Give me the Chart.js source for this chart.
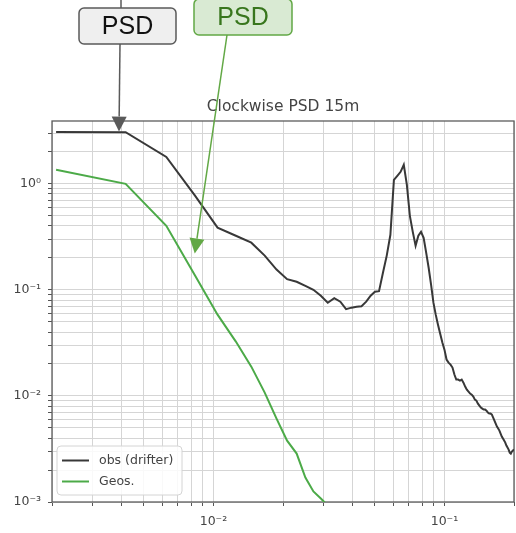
<!DOCTYPE html>
<html>
<head>
<meta charset="utf-8">
<script src="https://cdn.jsdelivr.net/npm/chart.js@4.4.1/dist/chart.umd.min.js"></script>
<style>
  html, body { margin: 0; padding: 0; background: #fff; }
  #wrap { width: 516px; height: 533px; }
</style>
</head>
<body>
<div id="wrap"><canvas id="psdChart" width="516" height="533"></canvas></div>
<script>
/* FREQUENCY GRID (cph): harmonics of a 480 h record */
const recordHours = 480;
const harmonics = Array.from({ length: 96 }, (_, i) => i + 1);
const freq = harmonics.map(n => n / recordHours);

/* SPECTRA */
const obsPsd = [
  3.08, 3.06, 1.79, 0.769, 0.385, 0.323, 0.278, 0.21, 0.155, 0.126,
  0.119, 0.109, 0.1, 0.088, 0.0756, 0.0834, 0.0773, 0.0657, 0.0679, 0.0693,
  0.0701, 0.0773, 0.088, 0.096, 0.097, 0.145, 0.21, 0.33, 1.088, 1.187,
  1.294, 1.507, 0.976, 0.498, 0.352, 0.26, 0.323, 0.352, 0.309, 0.224,
  0.1615, 0.1117, 0.0756, 0.0583, 0.0469, 0.0386, 0.0318, 0.0273, 0.022, 0.0206,
  0.0197, 0.0185, 0.0159, 0.01424, 0.01424, 0.01393, 0.01424, 0.01334, 0.01224, 0.01146,
  0.01098, 0.01051, 0.01028, 0.00985, 0.00923, 0.00903, 0.00846, 0.0081, 0.00776, 0.00759,
  0.00743, 0.00743, 0.00727, 0.00696, 0.00681, 0.00681, 0.00667, 0.00625, 0.00585, 0.00548,
  0.00514, 0.00492, 0.00471, 0.00442, 0.00414, 0.00396, 0.00379, 0.00363, 0.0034, 0.00326,
  0.00312, 0.00292, 0.00286, 0.00299, 0.00306, 0.00312
];
const geosPsd = [
  1.352, 0.998, 0.4015, 0.1358, 0.0583, 0.0325, 0.01888, 0.01074, 0.00611, 0.00379,
  0.00286, 0.0017, 0.001256, 0.001079, 0.000927, 0.00078
];
const seriesNames = ["obs (drifter)", "Geos."];
const seriesColors = ["#383838", "#4caa48"];

/* AXES */
const xRange = [0.002, 0.2];
const yRange = [0.001, 3.9];
const xDecades = [0.001, 0.01, 0.1];
const yDecades = [0.001, 0.01, 0.1, 1];
const xTickText = ["10⁻³", "10⁻²", "10⁻¹"];
const yTickText = ["10⁻³", "10⁻²", "10⁻¹", "10⁰"];
const titleText = "Clockwise PSD 15m";

// 1..9 x 10^k inside the axis range, one grid line each
function gridValues(decades, range) {
  const out = [];
  decades.forEach(d => {
    for (let m = 1; m <= 9; m++) {
      const v = +(m * d).toPrecision(6);
      if (v >= range[0] * 0.999 && v <= range[1] * 1.001) out.push(v);
    }
  });
  return out;
}

function decadeLabel(value, decades, texts) {
  const i = decades.findIndex(d => Math.abs(value / d - 1) < 1e-6);
  return i < 0 ? "" : texts[i];
}

const font = "'DejaVu Sans', sans-serif";

/* DRAWING HELPERS */
function roundRect(ctx, x, y, w, h, r) {
  ctx.beginPath();
  ctx.moveTo(x + r, y);
  ctx.arcTo(x + w, y, x + w, y + h, r);
  ctx.arcTo(x + w, y + h, x, y + h, r);
  ctx.arcTo(x, y + h, x, y, r);
  ctx.arcTo(x, y, x + w, y, r);
  ctx.closePath();
}

function arrow(ctx, x1, y1, x2, y2, color) {
  const a = Math.atan2(y2 - y1, x2 - x1);
  const len = 15, half = 7.5;
  const bx = x2 - len * Math.cos(a), by = y2 - len * Math.sin(a);
  ctx.strokeStyle = color;
  ctx.fillStyle = color;
  ctx.lineWidth = 1.5;
  ctx.beginPath();
  ctx.moveTo(x1, y1);
  ctx.lineTo(bx, by);
  ctx.stroke();
  ctx.beginPath();
  ctx.moveTo(x2, y2);
  ctx.lineTo(bx + half * Math.sin(a), by - half * Math.cos(a));
  ctx.lineTo(bx - half * Math.sin(a), by + half * Math.cos(a));
  ctx.closePath();
  ctx.fill();
}

function callout(ctx, box, fill, stroke, textColor) {
  roundRect(ctx, box.x, box.y, box.w, box.h, 5);
  ctx.fillStyle = fill;
  ctx.fill();
  ctx.strokeStyle = stroke;
  ctx.lineWidth = 1.5;
  ctx.stroke();
  ctx.fillStyle = textColor;
  ctx.font = "25px 'Liberation Sans', Arial, sans-serif";
  ctx.textAlign = "center";
  ctx.textBaseline = "middle";
  ctx.fillText("PSD", box.x + box.w / 2, box.y + box.h / 2 + 1);
}

/* FRAME, TITLE, LEGEND, CALLOUTS */
const decorations = {
  id: "decorations",
  beforeDatasetsDraw(chart) {
    const { ctx, chartArea: a } = chart;
    ctx.save();
    ctx.strokeStyle = "#5c5c5c";
    ctx.lineWidth = 1.3;
    ctx.strokeRect(a.left, a.top, a.right - a.left, a.bottom - a.top);
    ctx.restore();
  },
  afterDraw(chart) {
    const { ctx, chartArea: a, scales } = chart;
    ctx.save();

    // title
    ctx.fillStyle = "#444";
    ctx.font = "15.5px " + font;
    ctx.textAlign = "center";
    ctx.textBaseline = "middle";
    ctx.fillText(titleText, (a.left + a.right) / 2, a.top - 14);

    // legend, lower left
    const lx = a.left + 5, ly = a.bottom - 56;
    roundRect(ctx, lx, ly, 125, 49, 4);
    ctx.fillStyle = "rgba(255,255,255,0.85)";
    ctx.fill();
    ctx.strokeStyle = "#d4d4d4";
    ctx.lineWidth = 1;
    ctx.stroke();
    ctx.font = "12.5px " + font;
    ctx.textAlign = "left";
    chart.data.datasets.forEach((ds, i) => {
      const y = ly + 14.5 + i * 21;
      ctx.strokeStyle = ds.borderColor;
      ctx.lineWidth = 2;
      ctx.beginPath();
      ctx.moveTo(lx + 5, y);
      ctx.lineTo(lx + 32, y);
      ctx.stroke();
      ctx.fillStyle = "#444";
      ctx.fillText(ds.label, lx + 42, y);
    });

    // callouts pointing at the two spectra
    const x = scales.x, yS = scales.y;
    const grayTip = { x: x.getPixelForValue(0.0039), y: yS.getPixelForValue(3.1) };
    const greenTip = { x: x.getPixelForValue(0.0083), y: yS.getPixelForValue(0.22) };

    ctx.strokeStyle = "#5a5a5a";
    ctx.lineWidth = 1.5;
    ctx.beginPath();
    ctx.moveTo(121, 0);
    ctx.lineTo(121, 8);
    ctx.stroke();
    arrow(ctx, 120, 44, grayTip.x, grayTip.y, "#5a5a5a");
    callout(ctx, { x: 79, y: 8, w: 97, h: 36 }, "#efefef", "#5a5a5a", "#111");

    arrow(ctx, 227, 35, greenTip.x, greenTip.y, "#62a845");
    callout(ctx, { x: 194, y: -1, w: 98, h: 36 }, "#d9ead3", "#62a845", "#38761d");

    ctx.restore();
  }
};

new Chart(document.getElementById("psdChart"), {
  type: "line",
  data: {
    datasets: [
      {
        label: seriesNames[0],
        data: obsPsd.map((v, i) => ({ x: freq[i], y: v })),
        borderColor: seriesColors[0],
        borderWidth: 2,
        pointRadius: 0,
        tension: 0
      },
      {
        label: seriesNames[1],
        data: geosPsd.map((v, i) => ({ x: freq[i], y: v })),
        borderColor: seriesColors[1],
        borderWidth: 2,
        pointRadius: 0,
        tension: 0
      }
    ]
  },
  options: {
    responsive: false,
    animation: false,
    events: [],
    layout: { padding: { top: 121, right: 2, left: 0, bottom: 0 } },
    plugins: { legend: { display: false }, tooltip: { enabled: false } },
    scales: {
      x: {
        type: "logarithmic",
        min: xRange[0],
        max: xRange[1],
        afterBuildTicks: s => { s.ticks = gridValues(xDecades, xRange).map(v => ({ value: v })); },
        afterFit: s => { s.height = 31; s.paddingLeft = 0; s.paddingRight = 0; },
        border: { display: false },
        grid: { color: "#d5d5d5", lineWidth: 1, tickColor: "#555", tickLength: 4 },
        ticks: {
          autoSkip: false,
          maxRotation: 0,
          padding: 8,
          color: "#444",
          font: { family: font, size: 12.5 },
          callback: v => decadeLabel(v, xDecades, xTickText)
        }
      },
      y: {
        type: "logarithmic",
        min: yRange[0],
        max: yRange[1],
        afterBuildTicks: s => { s.ticks = gridValues(yDecades, yRange).map(v => ({ value: v })); },
        afterFit: s => { s.width = 52; s.paddingTop = 0; s.paddingBottom = 0; },
        border: { display: false },
        grid: { color: "#d5d5d5", lineWidth: 1, tickColor: "#555", tickLength: 4 },
        ticks: {
          autoSkip: false,
          padding: 7,
          color: "#444",
          font: { family: font, size: 12.5 },
          callback: v => decadeLabel(v, yDecades, yTickText)
        }
      }
    }
  },
  plugins: [decorations]
});
</script>
</body>
</html>
